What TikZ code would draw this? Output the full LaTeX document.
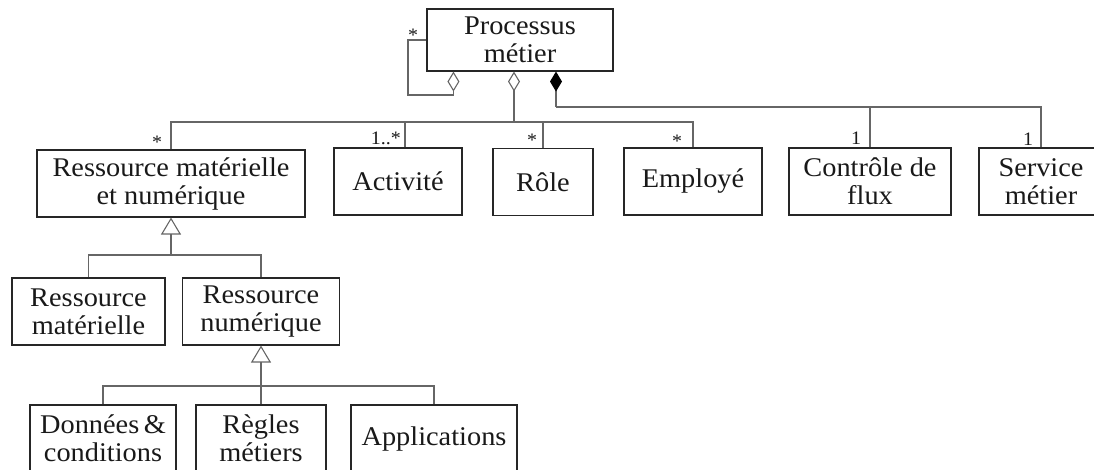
\documentclass[tikz,border=0pt]{standalone}
\usepackage{fontspec}
\setmainfont{Liberation Serif}[FakeStretch=1.05]
\usetikzlibrary{arrows.meta,calc}

\begin{document}
\begin{tikzpicture}[x=1pt,y=-1pt,
  cls/.style={draw=black!85, line width=1.1pt, rectangle, inner sep=0pt,
    align=center, font=\fontsize{27}{28}\selectfont, text=black!90},
  link/.style={draw=black!60, line width=1.1pt},
  aggr/.style={link, -{Diamond[open, length=20pt, width=12pt, line width=1.1pt]}},
  comp/.style={link, -{Diamond[length=20pt, width=12pt, fill=black, color=black]}},
  gen/.style={link, -{Triangle[open, length=17pt, width=20pt, line width=1.1pt]}},
  mult/.style={inner sep=0pt, font=\fontsize{19}{19}\selectfont, text=black!90}
]
\useasboundingbox (0,0) rectangle (1094,469);

% classes
\node[cls, minimum width=186pt, minimum height=62pt] (pm) at (520,40) {Processus\\métier};

\node[cls, minimum width=268pt, minimum height=67pt] (rmn)  at (171,183.5) {Ressource matérielle\\et numérique};
\node[cls, minimum width=128pt, minimum height=67pt] (act)  at (398,181.5) {Activité};
\node[cls, minimum width=100pt, minimum height=67pt] (role) at (543,182)   {Rôle};
\node[cls, minimum width=138pt, minimum height=67pt] (emp)  at (693,181.5) {Employé};
\node[cls, minimum width=162pt, minimum height=67pt] (cdf)  at (870,181.5) {Contrôle de\\flux};
\node[cls, minimum width=124pt, minimum height=67pt] (svc)  at (1041,181.5) {Service\\métier};

\node[cls, minimum width=153pt, minimum height=67pt] (rmat) at (88.5,311.5) {Ressource\\matérielle};
\node[cls, minimum width=157pt, minimum height=67pt] (rnum) at (261,311.5) {Ressource\\numérique};

\node[cls, minimum width=146pt, minimum height=67pt] (don) at (103,438.5) {Données\,\&\\conditions};
\node[cls, minimum width=130pt, minimum height=67pt] (reg) at (261,438.5) {Règles\\métiers};
\node[cls, minimum width=166pt, minimum height=67pt] (app) at (434,438.5) {Applications};

% junction points of the connector trees
\coordinate (loop) at (408,95);
\coordinate (bus1) at (514,122);
\coordinate (bus2) at (556,107);
\coordinate (gen1) at (171,255);
\coordinate (gen2) at (261,386);

% reflexive aggregation on the process
\draw[aggr] (pm.west) -| (loop) -| ([xshift=27pt]pm.south west);

% shared aggregation
\draw[aggr] (bus1) -- ([xshift=-6pt]pm.south);
\draw[link] (rmn.north) |- (bus1 -| emp.north) -- (emp.north);
\draw[link] ([xshift=7pt]act.north) -- ([xshift=7pt]act.north |- bus1);
\draw[link] (role.north) -- (role.north |- bus1);

% composition
\draw[comp] (bus2) -- ([xshift=36pt]pm.south);
\draw[link] (bus2) -| (svc.north);
\draw[link] (cdf.north) -- (cdf.north |- bus2);

% generalisations
\draw[gen] (gen1) -- (rmn.south);
\draw[link] (rmat.north) |- (gen1 -| rnum.north) -- (rnum.north);
\draw[gen] (reg.north) -- (reg.north |- rnum.south);
\draw[link] (don.north) |- (gen2 -| app.north) -- (app.north);

% multiplicities
\node[mult] (m0) at (413,35)  {*};
\node[mult] (m1) at (157,142) {*};
\node[mult, anchor=base east] (m2) at (401,144) {1..*};
\node[mult] (m3) at (532,140) {*};
\node[mult] (m4) at (677,141) {*};
\node[mult, anchor=base] (m5) at (856,144) {1};
\node[mult, anchor=base] (m6) at (1028,145) {1};
\end{tikzpicture}
\end{document}
